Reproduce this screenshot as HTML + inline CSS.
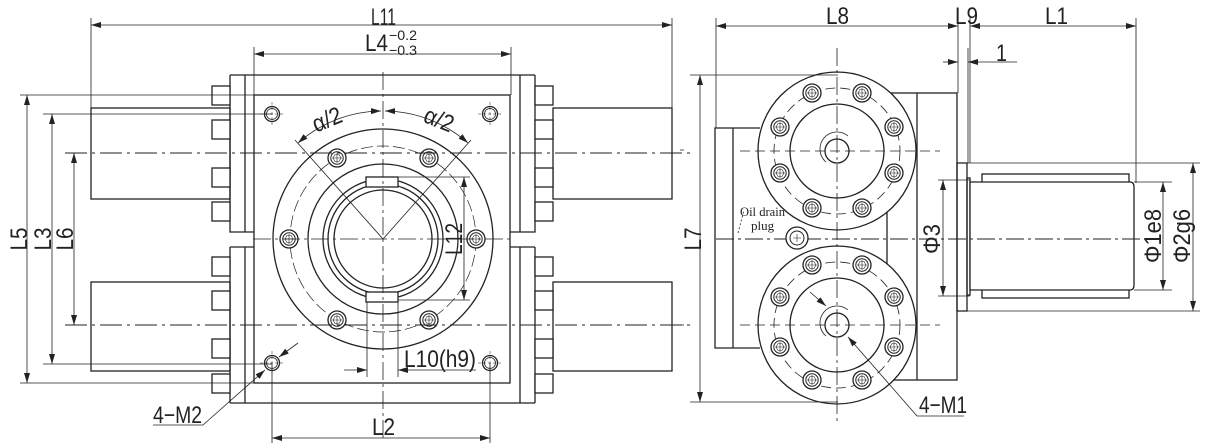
<!DOCTYPE html>
<html><head><meta charset="utf-8"><style>
html,body{margin:0;padding:0;background:#fff}
svg{display:block}
text{font-family:"Liberation Sans",sans-serif;fill:#222}
</style></head><body>
<svg width="1214" height="446" viewBox="0 0 1214 446" xmlns="http://www.w3.org/2000/svg">
<defs>
<marker id="a" viewBox="0 0 10 6" refX="10" refY="3" markerWidth="10" markerHeight="6" orient="auto-start-reverse" markerUnits="userSpaceOnUse"><path d="M0,0 L10,3 L0,6 Z" fill="#222"/></marker>
<g id="bolt"><circle r="9" fill="#fff" stroke="#222" stroke-width="1.3"/><circle r="6.2" fill="none" stroke="#222" stroke-width="1"/><path d="M-4,0 L-2,-3.5 L2,-3.5 L4,0 L2,3.5 L-2,3.5 Z M-5,0 H5 M0,-5 V5" fill="none" stroke="#222" stroke-width="0.6"/></g>
<g id="hole"><circle r="7.5" fill="none" stroke="#222" stroke-width="1.3"/><circle r="5.5" fill="none" stroke="#222" stroke-width="0.8"/><path d="M-12,0 h24 M0,-12 v24" stroke="#222" stroke-width="0.5" stroke-dasharray="3,2"/></g>
<g id="sq"><rect width="18" height="19" fill="#fff" stroke="#222" stroke-width="1.3"/></g>
</defs>

<g fill="none" stroke="#222" stroke-width="1.3">
<rect x="91" y="108" width="139" height="91"/>
<rect x="91" y="282" width="139" height="89"/>
<rect x="553" y="108" width="119" height="91"/>
<rect x="553" y="282" width="119" height="89"/>
<path d="M230,75 H535 M230,403 H535"/>
<path d="M230,75 V232 H254 M245,75 V232 M230,247 V403 M245,247 V403 M230,247 H254"/>
<path d="M535,75 V232 H510 M520,75 V232 M535,247 V403 M520,247 V403 M535,247 H510"/>
<rect x="254" y="95" width="256" height="288"/>
<circle cx="383" cy="239" r="110"/>
<circle cx="383" cy="239" r="93" stroke-width="0.7" stroke-dasharray="12,4"/>
<circle cx="383" cy="239" r="75"/>
<circle cx="383" cy="239" r="60"/>
<circle cx="383" cy="239" r="55"/>
<circle cx="383" cy="239" r="49"/>
<rect x="366" y="177" width="32" height="10" fill="#fff"/>
<rect x="366" y="292" width="32" height="10" fill="#fff"/>
</g>
<use href="#sq" x="212" y="86"/><use href="#sq" x="212" y="120"/><use href="#sq" x="212" y="168"/><use href="#sq" x="212" y="202"/>
<use href="#sq" x="212" y="257"/><use href="#sq" x="212" y="291"/><use href="#sq" x="212" y="339"/><use href="#sq" x="212" y="374"/>
<use href="#sq" x="535" y="86"/><use href="#sq" x="535" y="120"/><use href="#sq" x="535" y="168"/><use href="#sq" x="535" y="202"/>
<use href="#sq" x="535" y="257"/><use href="#sq" x="535" y="291"/><use href="#sq" x="535" y="339"/><use href="#sq" x="535" y="374"/>
<use href="#bolt" x="337" y="158"/><use href="#bolt" x="429" y="158"/><use href="#bolt" x="289" y="239"/><use href="#bolt" x="476" y="239"/><use href="#bolt" x="337" y="320"/><use href="#bolt" x="429" y="320"/>
<use href="#hole" x="272" y="114"/><use href="#hole" x="490" y="114"/><use href="#hole" x="272" y="363"/><use href="#hole" x="490" y="363"/>

<g fill="none" stroke="#222" stroke-width="0.8">
<path d="M65,153 H690 M65,325 H690" stroke-dasharray="22,5,3,5" stroke-width="1"/>
<path d="M253,239 H512" stroke-dasharray="18,4,3,4"/>
<path d="M383,72 V440" stroke-dasharray="18,4,3,4"/>
<path d="M383,239 L295,140 M383,239 L471,140"/>
<path d="M298,143 A128,128 0 0 1 381,111" marker-start="url(#a)" marker-end="url(#a)"/>
<path d="M385,111 A128,128 0 0 1 468,143" marker-start="url(#a)" marker-end="url(#a)"/>
<path d="M91,25 H672" marker-start="url(#a)" marker-end="url(#a)"/>
<path d="M91,18 V108 M672,18 V108"/>
<path d="M254,54 H511" marker-start="url(#a)" marker-end="url(#a)"/>
<path d="M254,47 V95 M511,47 V95"/>
<path d="M27,95 V383" marker-start="url(#a)" marker-end="url(#a)"/>
<path d="M20,95 H254 M20,383 H254"/>
<path d="M52,114 V364" marker-start="url(#a)" marker-end="url(#a)"/>
<path d="M43,114 H272 M43,364 H272"/>
<path d="M74,153 V325" marker-start="url(#a)" marker-end="url(#a)"/>
<path d="M398,177 H470 M398,300 H470"/>
<path d="M464,177 V300" marker-start="url(#a)" marker-end="url(#a)"/>
<path d="M367,302 V377 M398,302 V377"/>
<path d="M344,370 H367" marker-end="url(#a)"/>
<path d="M476,370 H398" marker-end="url(#a)"/>
<path d="M272,363 V443 M490,363 V443"/>
<path d="M272,438 H490" marker-start="url(#a)" marker-end="url(#a)"/>
<path d="M298,343 L279,357" marker-end="url(#a)"/>
<path d="M203,425 L265,370" marker-end="url(#a)"/>
<path d="M153,425 H203"/>

<g stroke-width="1.3">
<path d="M760,128 H715 V348 H760 M733,128 V348"/>
<rect x="887" y="93" width="70" height="287" fill="#fff"/>
<path d="M917,93 V380"/>
<circle cx="837" cy="151" r="79" fill="#fff"/>
<circle cx="837" cy="325" r="79" fill="#fff"/>
<circle cx="837" cy="151" r="47"/><circle cx="837" cy="325" r="47"/>
<circle cx="837" cy="151" r="12"/><circle cx="837" cy="325" r="12"/>
<rect x="957" y="163" width="10" height="148"/>
<rect x="967" y="178" width="3" height="117"/>
<rect x="982" y="174" width="147" height="124"/>
<path d="M970,182 H1130 Q1134,182 1134,187 V285 Q1134,290 1130,290 H970 Z" fill="#fff"/>
</g>
<circle cx="837" cy="151" r="63" stroke-dasharray="10,5" stroke-width="0.8"/>
<circle cx="837" cy="325" r="63" stroke-dasharray="10,5" stroke-width="0.8"/>
<path d="M826,162 A16,16 0 1 1 848,136" stroke-width="0.8"/>
<path d="M826,336 A16,16 0 1 1 848,310" stroke-width="0.8"/>
<path d="M837,48 V425" stroke-dasharray="18,4,3,4"/>
<path d="M740,151 H940 M740,325 H940" stroke-dasharray="10,5"/>
<path d="M716,239 H1150" stroke-dasharray="18,4,3,4" stroke-width="1"/>
<path d="M680,150 H684 M680,325 H684"/>
<path d="M716,18 V128 M958,18 V93 M968,48 V163 M970,18 V163 M1136,18 V183"/>
<path d="M716,26 H958" marker-start="url(#a)" marker-end="url(#a)"/>
<path d="M970,26 H1136" marker-start="url(#a)" marker-end="url(#a)"/>
<path d="M943,62 H958" marker-end="url(#a)"/>
<path d="M1017,62 H968" marker-end="url(#a)"/>
<path d="M690,75 H838 M690,402 H838"/>
<path d="M700,75 V402" marker-start="url(#a)" marker-end="url(#a)"/>
<path d="M938,180 H970 M938,296 H970"/>
<path d="M943,180 V296" marker-start="url(#a)" marker-end="url(#a)"/>
<path d="M1134,182 H1172 M1134,290 H1172"/>
<path d="M1163,182 V290" marker-start="url(#a)" marker-end="url(#a)"/>
<path d="M967,163 H1200 M967,311 H1200"/>
<path d="M1193,163 V311" marker-start="url(#a)" marker-end="url(#a)"/>
<path d="M810,292 L826,306" marker-end="url(#a)"/>
<path d="M917,416 L848,337" marker-end="url(#a)"/>
<path d="M917,416 H964"/>
<path d="M738,233 L744,210" stroke-dasharray="2,2"/>
</g>
<use href="#bolt" x="812" y="93"/><use href="#bolt" x="862" y="93"/><use href="#bolt" x="780" y="127"/><use href="#bolt" x="894" y="127"/>
<use href="#bolt" x="780" y="173"/><use href="#bolt" x="894" y="173"/><use href="#bolt" x="812" y="208"/><use href="#bolt" x="862" y="208"/>
<use href="#bolt" x="812" y="265"/><use href="#bolt" x="862" y="265"/><use href="#bolt" x="780" y="297"/><use href="#bolt" x="894" y="297"/>
<use href="#bolt" x="780" y="347"/><use href="#bolt" x="894" y="347"/><use href="#bolt" x="812" y="380"/><use href="#bolt" x="862" y="380"/>
<g transform="translate(797,238)"><circle r="11" fill="#fff" stroke="#222" stroke-width="1.3"/><circle r="7" fill="none" stroke="#222"/><path d="M-4,0 h8 M0,-4 v8" stroke="#222" stroke-width="0.6"/></g>

<g font-size="24">
<text x="371" y="25" textLength="25" lengthAdjust="spacingAndGlyphs">L11</text>
<text x="365" y="51" textLength="23" lengthAdjust="spacingAndGlyphs">L4</text>
<text x="389" y="40" font-size="14" textLength="28" lengthAdjust="spacingAndGlyphs">−0.2</text>
<text x="389" y="55" font-size="14" textLength="28" lengthAdjust="spacingAndGlyphs">−0.3</text>
<text transform="translate(27,239) rotate(-90)" text-anchor="middle" textLength="23" lengthAdjust="spacingAndGlyphs">L5</text>
<text transform="translate(51,239) rotate(-90)" text-anchor="middle" textLength="23" lengthAdjust="spacingAndGlyphs">L3</text>
<text transform="translate(73,239) rotate(-90)" text-anchor="middle" textLength="23" lengthAdjust="spacingAndGlyphs">L6</text>
<text transform="translate(462,239) rotate(-90)" text-anchor="middle" textLength="32" lengthAdjust="spacingAndGlyphs">L12</text>
<text transform="translate(330,127) rotate(-22)" text-anchor="middle" textLength="30" lengthAdjust="spacingAndGlyphs">α/2</text>
<text transform="translate(436,127) rotate(22)" text-anchor="middle" textLength="30" lengthAdjust="spacingAndGlyphs">α/2</text>
<text x="404" y="367" textLength="72" lengthAdjust="spacingAndGlyphs">L10(h9)</text>
<text x="153" y="423" textLength="49" lengthAdjust="spacingAndGlyphs">4−M2</text>
<text x="372" y="435" textLength="23" lengthAdjust="spacingAndGlyphs">L2</text>
<text x="826" y="24" textLength="23" lengthAdjust="spacingAndGlyphs">L8</text>
<text x="955" y="24" textLength="23" lengthAdjust="spacingAndGlyphs">L9</text>
<text x="1045" y="24" textLength="23" lengthAdjust="spacingAndGlyphs">L1</text>
<text x="996" y="61" textLength="11" lengthAdjust="spacingAndGlyphs">1</text>
<text transform="translate(701,239) rotate(-90)" text-anchor="middle" textLength="23" lengthAdjust="spacingAndGlyphs">L7</text>
<text transform="translate(940,239) rotate(-90)" text-anchor="middle" textLength="30" lengthAdjust="spacingAndGlyphs">Φ3</text>
<text transform="translate(1161,236) rotate(-90)" text-anchor="middle" textLength="54" lengthAdjust="spacingAndGlyphs">Φ1e8</text>
<text transform="translate(1190,236) rotate(-90)" text-anchor="middle" textLength="54" lengthAdjust="spacingAndGlyphs">Φ2g6</text>
<text x="919" y="413" textLength="48" lengthAdjust="spacingAndGlyphs">4−M1</text>
</g>
<text x="740" y="216" font-size="13" style="font-family:'Liberation Serif',serif" textLength="45" lengthAdjust="spacingAndGlyphs">Oil drain</text>
<text x="751" y="230" font-size="13" style="font-family:'Liberation Serif',serif">plug</text>
</svg>
</body></html>
